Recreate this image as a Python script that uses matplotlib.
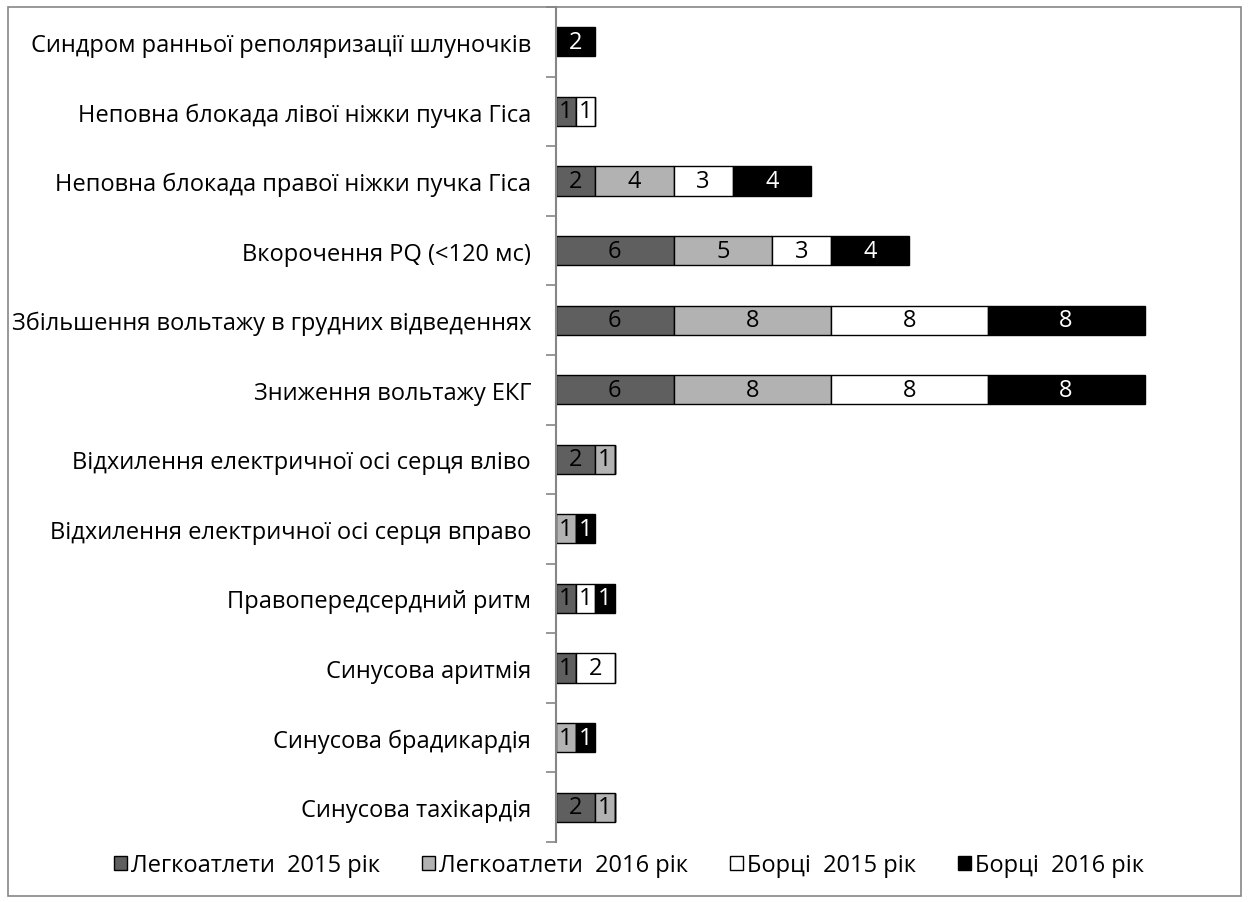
import matplotlib.pyplot as plt
import matplotlib.patches as mpatches
import numpy as np

plt.rcParams['font.family'] = ['Open Sans', 'DejaVu Sans']

# categories listed bottom to top
categories = [
    "Синусова тахікардія",
    "Синусова брадикардія",
    "Синусова аритмія",
    "Правопередсердний ритм",
    "Відхилення електричної осі серця вправо",
    "Відхилення електричної осі серця вліво",
    "Зниження вольтажу ЕКГ",
    "Збільшення вольтажу в грудних відведеннях",
    "Вкорочення PQ (<120 мс)",
    "Неповна блокада правої ніжки пучка Гіса",
    "Неповна блокада лівої ніжки пучка Гіса",
    "Синдром ранньої реполяризації шлуночків",
]
athletes_2015 = [2, 0, 1, 1, 0, 2, 6, 6, 6, 2, 1, 0]
athletes_2016 = [1, 1, 0, 0, 1, 1, 8, 8, 5, 4, 0, 0]
wrestlers_2015 = [0, 0, 2, 1, 0, 0, 8, 8, 3, 3, 1, 0]
wrestlers_2016 = [0, 1, 0, 1, 1, 0, 8, 8, 4, 4, 0, 2]

series = [
    ("Легкоатлети  2015 рік", athletes_2015, "#5f5f5f", "black"),
    ("Легкоатлети  2016 рік", athletes_2016, "#b2b2b2", "black"),
    ("Борці  2015 рік", wrestlers_2015, "white", "black"),
    ("Борці  2016 рік", wrestlers_2016, "black", "white"),
]
FS = 17

W, H = 1248, 903
fig = plt.figure(figsize=(W / 100, H / 100), dpi=100)
ax = fig.add_axes([556 / W, 1 - 843 / H, (1225 - 556) / W, (843 - 8) / H])

y = np.arange(len(categories))
left = np.zeros(len(categories))
for name, vals, color, tcolor in series:
    vals = np.array(vals, dtype=float)
    bars = ax.barh(y, vals, left=left, height=0.42, color=color,
                   edgecolor="black", linewidth=1.0, label=name)
    for b, v in zip(bars, vals):
        if v > 0:
            ax.text(b.get_x() + b.get_width() / 2, b.get_y() + b.get_height() / 2,
                    f"{int(v)}", ha="center", va="center", fontsize=FS, color=tcolor)
    left += vals

ax.set_xlim(0, 34.1)
ax.set_ylim(-0.5, len(categories) - 0.5)
ax.set_yticks(y)
ax.set_yticklabels(categories, fontsize=FS)
ax.set_yticks(np.arange(len(categories) + 1) - 0.5, minor=True)
ax.tick_params(axis="y", which="major", length=0, pad=18)
ax.tick_params(axis="y", which="minor", length=7, width=1.2, color="#868686")
ax.set_xticks([])
for s in ["top", "right", "bottom"]:
    ax.spines[s].set_visible(False)
ax.spines["left"].set_color("#868686")
ax.spines["left"].set_linewidth(1.5)

handles = [mpatches.Patch(facecolor=c, edgecolor="black", linewidth=1.0)
           for _, _, c, _ in series]
fig.legend(handles, [s[0] for s in series], loc="center",
           bbox_to_anchor=(629 / W, 1 - 866 / H), ncol=4, frameon=False,
           fontsize=FS, handlelength=0.55, handleheight=0.55,
           handletextpad=0.15, columnspacing=1.8)

# chart border
fig.patches.append(mpatches.Rectangle((8 / W, 1 - 897 / H), (1241 - 8) / W, (897 - 8) / H,
                                      transform=fig.transFigure, fill=False,
                                      edgecolor="#868686", linewidth=1.2))

fig.savefig("out.png", dpi=100)
